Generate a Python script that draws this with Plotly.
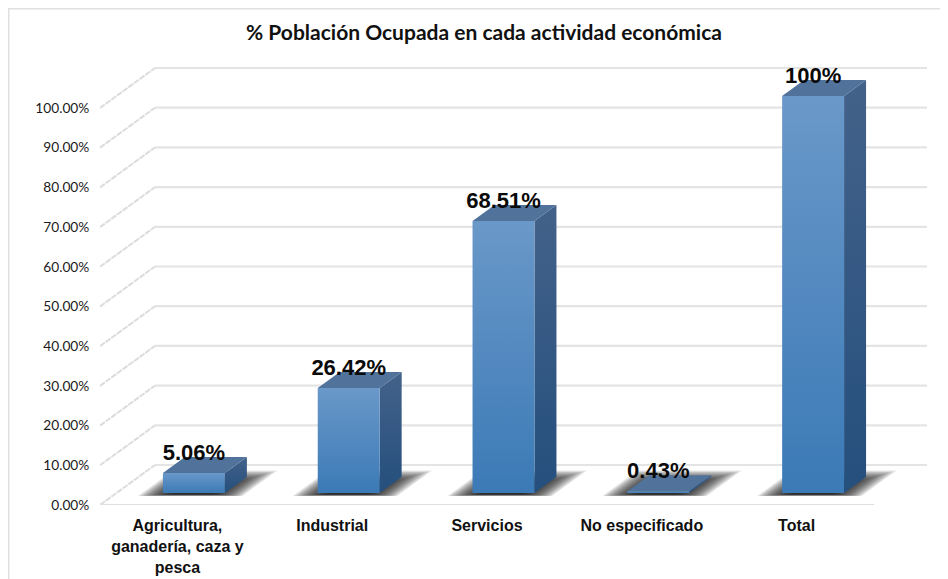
import plotly.graph_objects as go

categories = ["Agricultura,<br>ganadería, caza y<br>pesca", "Industrial", "Servicios", "No especificado", "Total"]
values = [5.06, 26.42, 68.51, 0.43, 100]
value_labels = ["5.06%", "26.42%", "68.51%", "0.43%", "100%"]
y_ticks = [0, 10, 20, 30, 40, 50, 60, 70, 80, 90, 100]
y_tick_labels = ["0.00%", "10.00%", "20.00%", "30.00%", "40.00%", "50.00%", "60.00%", "70.00%", "80.00%", "90.00%", "100.00%"]
title_text = "% Población Ocupada en cada actividad económica"

OFF = 8               # page margin of the browser body
W, H = 948 - OFF, 579 - OFF
L, R, T, B = 100 - OFF, 21, 60 - OFF, 74
PX_X = 154.8          # px per category
PX_Y = 3.97           # px per percent point
DX = 55 / PX_X        # oblique depth in x units
DY = 40 / PX_Y        # oblique depth in y units
BAR_W = 0.40
D_FRONT, D_BACK = 0.30, 0.70


def pr(x, v, d):
    return x + d * DX, v + d * DY


def poly(pts):
    xs, ys = zip(*pts)
    return list(xs) + [xs[0]], list(ys) + [ys[0]]


fig = go.Figure()


def face(pts, colors=None, solid=None):
    xs, ys = poly(pts)
    kw = dict(fillcolor=solid) if solid else dict(
        fillgradient=dict(type="vertical", colorscale=[[0, colors[0]], [1, colors[1]]]))
    fig.add_trace(go.Scatter(x=xs, y=ys, mode="lines", fill="toself", line=dict(width=0),
                             hoverinfo="skip", showlegend=False, **kw))


def line(pts, color, width, dash="solid"):
    xs, ys = zip(*pts)
    fig.add_trace(go.Scatter(x=xs, y=ys, mode="lines", line=dict(color=color, width=width, dash=dash),
                             hoverinfo="skip", showlegend=False))


X0, X1 = -0.5, 4.5
# gridlines: diagonal on the side wall, horizontal on the back wall
for t in y_ticks:
    line([pr(X0, t, 0), pr(X0, t, 1)], "#dcdcdc", 2, "6px,1px")
    line([pr(X0, t, 1), pr(X1, t, 1)], "#e4e4e4", 2.2)
line([pr(X0, 0, 0), pr(X1, 0, 0)], "#e0e0e0", 2.2)

# floor shadows
LAYERS = 18
for i in range(len(values)):
    for k in range(LAYERS):
        inset = k / PX_X * 1.9
        dins = k * 0.022
        x_a, x_b = i - BAR_W / 2 - 0.135 + inset, i + BAR_W / 2 + 0.14 - inset
        d_a, d_b = 0.225 + dins * 0.1, 0.86 - dins
        face([pr(x_a, 0, d_a), pr(x_b, 0, d_a), pr(x_b, 0, d_b), pr(x_a, 0, d_b)],
             solid="rgba(20,20,20,0.105)")

# bars
for i, v in enumerate(values):
    a, b = i - BAR_W / 2, i + BAR_W / 2
    face([pr(b, 0, D_FRONT), pr(b, 0, D_BACK), pr(b, v, D_BACK), pr(b, v, D_FRONT)],
         colors=("#254f7d", "#43628a"))
    face([pr(a, v, D_FRONT), pr(b, v, D_FRONT), pr(b, v, D_BACK), pr(a, v, D_BACK)],
         solid="#50729b")
    face([pr(a, 0, D_FRONT), pr(b, 0, D_FRONT), pr(b, v, D_FRONT), pr(a, v, D_FRONT)],
         colors=("#3b7ab6", "#6a98c9"))

# data labels
lab_x = [pr(i, v, D_FRONT)[0] for i, v in enumerate(values)]
lab_y = [pr(i, v, D_FRONT)[1] + 18.5 / PX_Y for i, v in enumerate(values)]
fig.add_trace(go.Scatter(x=lab_x, y=lab_y, mode="text", text=value_labels, textposition="middle center",
                         textfont=dict(family="Liberation Sans", size=22, color="#0a0a0a", weight="bold"),
                         hoverinfo="skip", showlegend=False, cliponaxis=False))

plot_w, plot_h = W - L - R, H - T - B
fig.update_layout(
    width=W, height=H, margin=dict(l=L, r=R, t=T, b=B, pad=0, autoexpand=False),
    paper_bgcolor="white", plot_bgcolor="white", showlegend=False,
    title=dict(text="<b>" + title_text + "</b>", x=(484 - OFF) / W, xanchor="center", y=1 - (33 - OFF) / H, yanchor="middle",
               font=dict(family="Lato", size=21, color="#111111")),
    xaxis=dict(range=[X0, X0 + plot_w / PX_X], tickvals=list(range(5)), ticktext=categories,
               showgrid=False, zeroline=False, showline=False, ticks="outside", ticklen=6,
               tickcolor="rgba(0,0,0,0)", tickangle=0,
               tickfont=dict(family="Liberation Sans", size=16, color="#111111", weight="bold")),
    yaxis=dict(range=[0, plot_h / PX_Y], tickvals=y_ticks, ticktext=y_tick_labels,
               showgrid=False, zeroline=False, showline=False, ticks="outside", ticklen=7,
               tickcolor="rgba(0,0,0,0)",
               tickfont=dict(family="Lato", size=13.7, color="#1a1a1a")),
    shapes=[
        dict(type="line", xref="paper", yref="paper", x0=(0.5 - L) / plot_w, x1=(W - L) / plot_w,
             y0=(H - B - 0.5) / plot_h, y1=(H - B - 0.5) / plot_h, line=dict(color="#e0e0e0", width=2), layer="below"),
        dict(type="line", xref="paper", yref="paper", x0=(0.5 - L) / plot_w, x1=(0.5 - L) / plot_w,
             y0=-B / plot_h, y1=(H - B) / plot_h, line=dict(color="#e0e0e0", width=2), layer="below"),
    ],
)

fig.write_html("out.html", post_script="document.documentElement.style.overflow='hidden';")
